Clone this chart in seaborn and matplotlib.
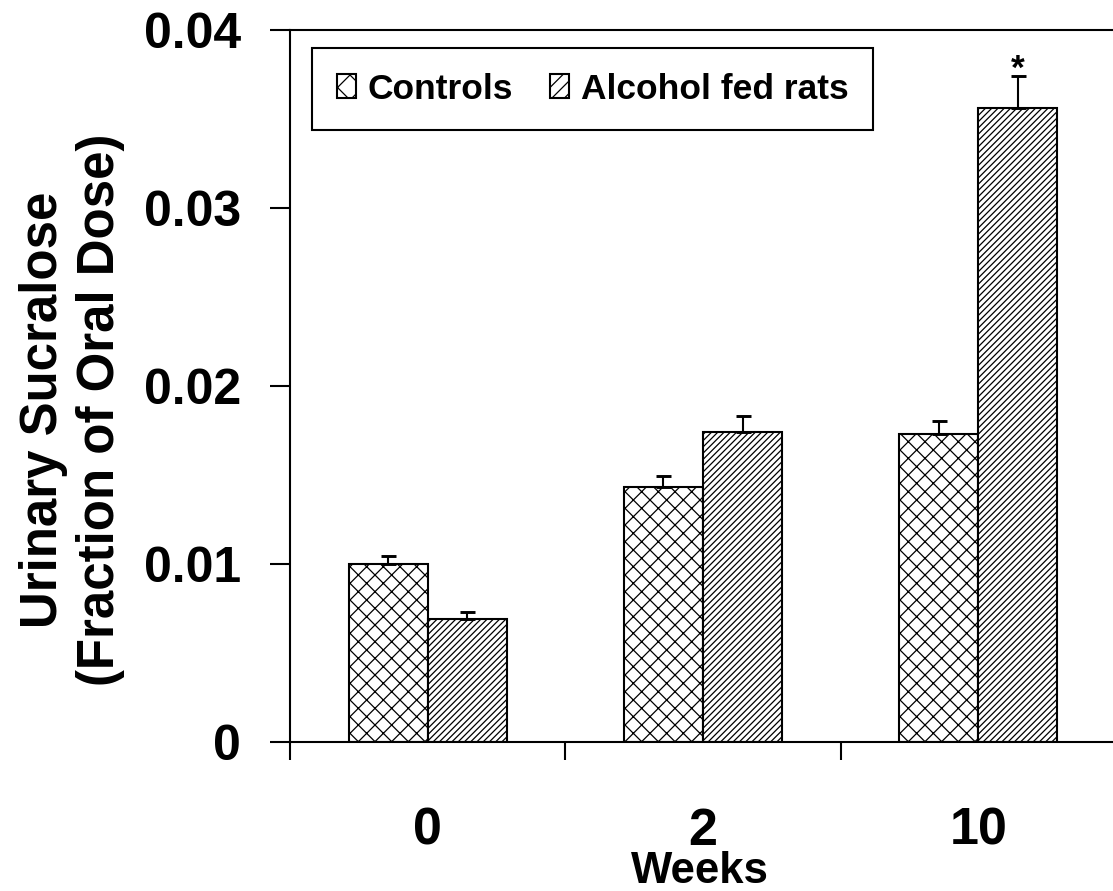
import numpy as np
import pandas as pd
import matplotlib
matplotlib.use("Agg")
import matplotlib.pyplot as plt
from matplotlib.patches import Patch
import seaborn as sns

weeks = ["0", "2", "10"]
groups = ["Controls", "Alcohol fed rats"]
controls = [0.0100, 0.0143, 0.0173]
controls_sem = [0.00043, 0.00065, 0.00074]
alcohol = [0.0069, 0.0174, 0.0356]
alcohol_sem = [0.0004, 0.0009, 0.0018]
y_ticks = [0, 0.01, 0.02, 0.03, 0.04]
y_tick_labels = ["0", "0.01", "0.02", "0.03", "0.04"]

df = pd.DataFrame({
    "Weeks": weeks + weeks,
    "value": controls + alcohol,
    "group": [groups[0]] * 3 + [groups[1]] * 3,
})

sns.set_style("white")
plt.rcParams["font.family"] = ["Liberation Sans", "DejaVu Sans"]
plt.rcParams["font.weight"] = "bold"
plt.rcParams["hatch.linewidth"] = 0.6
for key in ["text.color", "axes.labelcolor", "xtick.color", "ytick.color"]:
    plt.rcParams[key] = "black"

fig = plt.figure(figsize=(7.42, 5.94), dpi=150)
ax = fig.add_axes([0.2606, 0.1672, 0.7421, 0.7991])

sns.barplot(data=df, x="Weeks", y="value", hue="group", order=weeks,
            hue_order=groups, palette=["white", "white"], saturation=1,
            edgecolor="black", linewidth=1.0, width=0.575, gap=0,
            errorbar=None, legend=False, ax=ax)

bar_hatches = ["xxx", "////////"]
legend_hatches = ["xx", "////"]
sems = [controls_sem, alcohol_sem]
for cont, h, sem in zip(ax.containers, bar_hatches, sems):
    for bar in cont:
        bar.set_hatch(h)
    xs = [b.get_x() + b.get_width() / 2 for b in cont]
    ys = [b.get_height() for b in cont]
    ax.errorbar(xs, ys, yerr=[np.zeros(len(sem)), sem], fmt="none",
                ecolor="black", elinewidth=1.0, capsize=3.6, capthick=1.4)

# significance mark over the 10-week alcohol bar
top_bar = ax.containers[1][2]
ax.annotate("*", xy=(top_bar.get_x() + top_bar.get_width() / 2,
                     alcohol[2] + alcohol_sem[2]),
            xytext=(0, -1), textcoords="offset points", ha="center",
            va="baseline", fontsize=17, fontweight="bold")

ax.set_xlim(-0.5, 2.5)
ax.set_ylim(0, 0.04)
ax.set_yticks(y_ticks)
ax.set_yticklabels(y_tick_labels)
ax.tick_params(axis="y", direction="out", length=9.6, width=1.0, pad=14,
               labelsize=24, left=True)
ax.tick_params(axis="x", which="major", length=0, pad=31, labelsize=25)
ax.set_xticks([-0.5, 0.5, 1.5, 2.5], minor=True)
ax.tick_params(axis="x", which="minor", direction="out", length=8.6,
               width=1.0, bottom=True)

ax.spines["right"].set_visible(False)
for s in ["top", "left", "bottom"]:
    ax.spines[s].set_linewidth(1.0)
    ax.spines[s].set_color("black")

ax.set_ylabel("Urinary Sucralose\n(Fraction of Oral Dose)", fontsize=24.5,
              fontweight="bold", linespacing=1.2)
ax.yaxis.set_label_coords(-0.2, 0.466)
ax.set_xlabel("Weeks", fontsize=21, fontweight="bold")
ax.xaxis.set_label_coords(0.496, -0.153)

handles = [Patch(facecolor="white", edgecolor="black", hatch=h, label=g)
           for h, g in zip(legend_hatches, groups)]
leg = ax.legend(handles=handles, ncol=2, loc="upper left",
                bbox_to_anchor=(0.027, 0.975), borderaxespad=0,
                frameon=True, fancybox=False, edgecolor="black", framealpha=1,
                prop={"size": 17, "weight": "bold"}, handlelength=0.53,
                handleheight=0.68, handletextpad=0.33, columnspacing=1.05,
                borderpad=0.7)
leg.get_frame().set_linewidth(1.0)

fig.savefig("out.png", dpi=150)
